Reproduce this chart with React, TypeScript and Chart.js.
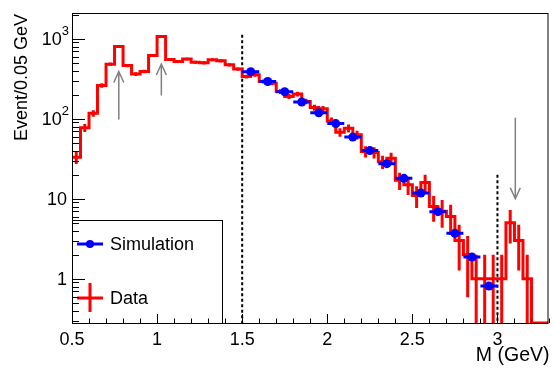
import React, { useEffect, useRef } from 'react';
import { Chart, registerables } from 'chart.js';

Chart.register(...registerables);

// ---- data ----
const BIN_START = 0.5;
const BIN_WIDTH = 0.05;
const X_MIN = 0.5;
const X_MAX = 3.3;
const Y_MIN = 0.28;
const Y_MAX = 2100;

// Data histogram counts per 0.05 GeV bin, from 0.50 to 3.30 GeV
const DATA_COUNTS = [
  33, 77, 117, 261, 482, 800, 463, 362, 390, 619,
  1070, 550, 520, 557, 510, 500, 546, 530, 473, 418,
  337, 355, 293, 279, 219, 190, 204, 165, 138, 133,
  94, 68, 76, 63, 39, 38, 29, 32, 17, 15,
  11, 16, 8, 7, 6, 3, 2, 1, 1, 1,
  1, 5, 3, 1, 0, 0,
];

// Simulation points (bin centres, 0.1 GeV wide)
const SIM_MASS = [1.55, 1.65, 1.75, 1.85, 1.95, 2.05, 2.15, 2.25, 2.35, 2.45, 2.55, 2.65, 2.75, 2.85, 2.95];
const SIM_VALUES = [388, 292, 218, 162, 119, 87, 59, 40, 27.5, 18, 11.8, 6.9, 3.7, 1.87, 0.81];
const SIM_HALF_WIDTH = 0.05;

// Arrows
const ARROW_MASS = [0.775, 1.025, 3.105];
const ARROW_TAIL = [98, 196, 103];
const ARROW_HEAD = [390, 483, 10];

// Dashed cut lines
const CUT_MASS = [1.5, 3.0];
const CUT_TOP = [1120, 20];

const X_TICK_STEP = 0.1;
const X_LABELS = ['0.5', '1', '1.5', '2', '2.5', '3'];
const Y_LABELS = [
  { v: 1000, base: '10', sup: '3' },
  { v: 100, base: '10', sup: '2' },
  { v: 10, base: '10', sup: '' },
  { v: 1, base: '1', sup: '' },
];
const X_TITLE = 'M (GeV)';
const Y_TITLE = 'Event/0.05 GeV';
const LEGEND_SIM = 'Simulation';
const LEGEND_DATA = 'Data';

const RED = '#ff0000';
const BLUE = '#0000ff';
const FONT = '"Liberation Sans", Arial, Helvetica, sans-serif';

function buildDatasets() {
  const hist: any[] = DATA_COUNTS.map((v, i) => ({ x: BIN_START + i * BIN_WIDTH, y: Math.max(v, Y_MIN) }));
  hist.push({ x: BIN_START + DATA_COUNTS.length * BIN_WIDTH, y: Math.max(DATA_COUNTS[DATA_COUNTS.length - 1], Y_MIN) });

  const errs: any[] = [];
  DATA_COUNTS.forEach((v, i) => {
    if (v <= 0) return;
    const c = BIN_START + (i + 0.5) * BIN_WIDTH;
    const e = Math.sqrt(v);
    errs.push({ x: c, y: Math.max(v - e, Y_MIN) });
    errs.push({ x: c, y: v + e });
    errs.push({ x: c, y: null });
  });

  const simBars: any[] = [];
  SIM_MASS.forEach((m, i) => {
    simBars.push({ x: m - SIM_HALF_WIDTH, y: SIM_VALUES[i] });
    simBars.push({ x: m + SIM_HALF_WIDTH, y: SIM_VALUES[i] });
    simBars.push({ x: m, y: null });
  });
  const simPts = SIM_MASS.map((m, i) => ({ x: m, y: SIM_VALUES[i] }));

  const cuts: any[] = [];
  CUT_MASS.forEach((m, i) => {
    cuts.push({ x: m, y: CUT_TOP[i] });
    cuts.push({ x: m, y: Y_MIN });
    cuts.push({ x: m, y: null });
  });

  return [
    { label: 'simPts', data: simPts, showLine: false, pointRadius: 4.5, pointBackgroundColor: BLUE, pointBorderColor: BLUE, pointBorderWidth: 0, order: 0 },
    { label: 'simBars', data: simBars, showLine: true, borderColor: BLUE, borderWidth: 3, pointRadius: 0, spanGaps: false, order: 1 },
    { label: 'errs', data: errs, showLine: true, borderColor: RED, borderWidth: 3, pointRadius: 0, spanGaps: false, order: 2 },
    { label: 'hist', data: hist, showLine: true, stepped: 'before', borderColor: RED, borderWidth: 3, pointRadius: 0, order: 3 },
    { label: 'cuts', data: cuts, showLine: true, borderColor: '#000', borderWidth: 2, borderDash: [3, 2.5], pointRadius: 0, spanGaps: false, order: 4 },
  ];
}

const rootPlugin = {
  id: 'rootStyle',
  afterDatasetsDraw(chart: any) {
    const { ctx, chartArea: a, scales } = chart;
    const x = scales.x;
    const y = scales.y;
    ctx.save();

    // arrows
    ctx.strokeStyle = '#808080';
    ctx.lineWidth = 1.5;
    ARROW_MASS.forEach((m, i) => {
      const px = x.getPixelForValue(m);
      const y0 = y.getPixelForValue(ARROW_TAIL[i]);
      const y1 = y.getPixelForValue(ARROW_HEAD[i]);
      const dir = Math.sign(y1 - y0);
      ctx.beginPath();
      ctx.moveTo(px, y0);
      ctx.lineTo(px, y1);
      ctx.moveTo(px - 5, y1 - dir * 11);
      ctx.lineTo(px, y1);
      ctx.lineTo(px + 5, y1 - dir * 11);
      ctx.stroke();
    });

    // legend box
    const lx = a.left;
    const ly = a.bottom - 103;
    const lw = 150;
    const lh = 103;
    ctx.fillStyle = '#fff';
    ctx.fillRect(lx, ly, lw, lh);
    ctx.strokeStyle = '#000';
    ctx.lineWidth = 1;
    ctx.strokeRect(lx + 0.5, ly + 0.5, lw, lh);

    const row1 = ly + 24;
    const row2 = ly + 78;
    ctx.strokeStyle = BLUE;
    ctx.lineWidth = 3;
    ctx.beginPath();
    ctx.moveTo(lx + 5, row1);
    ctx.lineTo(lx + 31, row1);
    ctx.stroke();
    ctx.fillStyle = BLUE;
    ctx.beginPath();
    ctx.arc(lx + 18, row1, 4, 0, Math.PI * 2);
    ctx.fill();

    ctx.strokeStyle = RED;
    ctx.beginPath();
    ctx.moveTo(lx + 5, row2);
    ctx.lineTo(lx + 31, row2);
    ctx.moveTo(lx + 18, row2 - 15);
    ctx.lineTo(lx + 18, row2 + 14);
    ctx.stroke();

    ctx.fillStyle = '#000';
    ctx.font = `18px ${FONT}`;
    ctx.textAlign = 'left';
    ctx.textBaseline = 'middle';
    ctx.fillText(LEGEND_SIM, lx + 38, row1 + 1);
    ctx.fillText(LEGEND_DATA, lx + 38, row2 + 1);

    // frame
    ctx.strokeStyle = '#000';
    ctx.lineWidth = 1;
    ctx.strokeRect(a.left + 0.5, a.top + 0.5, a.right - a.left - 1, a.bottom - a.top);

    // x ticks
    ctx.lineWidth = 1;
    const nx = Math.round((X_MAX - X_MIN) / X_TICK_STEP);
    for (let k = 0; k <= nx; k++) {
      const m = X_MIN + k * X_TICK_STEP;
      const px = Math.round(x.getPixelForValue(m)) + 0.5;
      const len = k % 5 === 0 ? 9 : 4.5;
      ctx.beginPath();
      ctx.moveTo(px, a.bottom);
      ctx.lineTo(px, a.bottom - len);
      ctx.stroke();
    }
    // y ticks
    [0.1, 1, 10, 100, 1000].forEach((d) => {
      for (let j = 1; j <= 9; j++) {
        const v = j * d;
        if (v < Y_MIN || v > Y_MAX) continue;
        const py = Math.round(y.getPixelForValue(v)) + 0.5;
        const len = j === 1 ? 13 : 7;
        ctx.beginPath();
        ctx.moveTo(a.left, py);
        ctx.lineTo(a.left + len, py);
        ctx.stroke();
      }
    });

    // x labels
    ctx.fillStyle = '#000';
    ctx.font = `18px ${FONT}`;
    ctx.textAlign = 'center';
    ctx.textBaseline = 'middle';
    X_LABELS.forEach((t) => {
      const px = x.getPixelForValue(parseFloat(t));
      ctx.fillText(t, px, a.bottom + 17);
    });
    // y labels
    Y_LABELS.forEach((l) => {
      const py = y.getPixelForValue(l.v);
      const right = a.left - 3;
      if (l.sup) {
        ctx.font = `13px ${FONT}`;
        const sw = ctx.measureText(l.sup).width;
        ctx.textAlign = 'right';
        ctx.fillText(l.sup, right, py - 7);
        ctx.font = `18px ${FONT}`;
        ctx.fillText(l.base, right - sw, py + 1);
      } else {
        ctx.font = `18px ${FONT}`;
        ctx.textAlign = 'right';
        ctx.fillText(l.base, right - 2, py + 1);
      }
    });

    // titles
    ctx.font = `19.5px ${FONT}`;
    ctx.textAlign = 'right';
    ctx.textBaseline = 'middle';
    ctx.fillText(X_TITLE, a.right + 1, a.bottom + 33);

    ctx.save();
    ctx.translate(22, a.top + 1);
    ctx.rotate(-Math.PI / 2);
    ctx.font = `18px ${FONT}`;
    ctx.textAlign = 'right';
    ctx.textBaseline = 'middle';
    ctx.fillText(Y_TITLE, 0, 0);
    ctx.restore();

    ctx.restore();
  },
};

export default function App() {
  const ref = useRef<HTMLCanvasElement | null>(null);
  useEffect(() => {
    if (!ref.current) return;
    const chart = new Chart(ref.current, {
      type: 'scatter',
      data: { datasets: buildDatasets() as any },
      options: {
        animation: false,
        responsive: false,
        devicePixelRatio: 1,
        layout: { padding: { left: 72, top: 13, right: 2, bottom: 46 } },
        plugins: { legend: { display: false }, tooltip: { enabled: false } },
        elements: { line: { tension: 0 } },
        scales: {
          x: { type: 'linear', min: X_MIN, max: X_MAX, display: false },
          y: { type: 'logarithmic', min: Y_MIN, max: Y_MAX, display: false },
        },
      } as any,
      plugins: [rootPlugin],
    });
    return () => chart.destroy();
  }, []);
  return (
    <div style={{ position: 'absolute', left: 0, top: 0, width: 553, height: 369, background: '#fff' }}>
      <canvas ref={ref} width={553} height={369} />
    </div>
  );
}
